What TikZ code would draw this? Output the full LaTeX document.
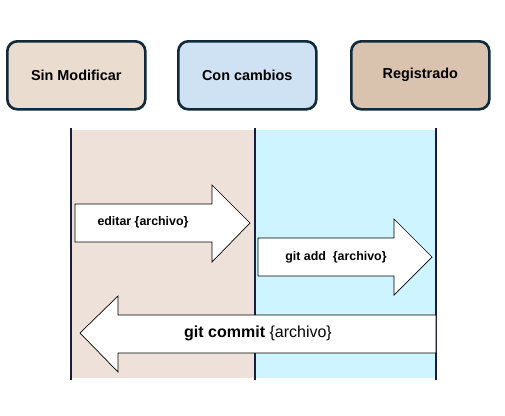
\documentclass[tikz,border=0pt]{standalone}
\usepackage{fontspec}
\setmainfont{Liberation Sans}
\begin{document}
\begin{tikzpicture}[x=1pt,y=-1pt,
  state/.style={draw=border,line width=2.6pt,rounded corners=10pt,minimum width=138pt,minimum height=68pt,font=\bfseries\fontsize{14.4}{16}\selectfont,anchor=north west},
  laneline/.style={draw=navy,line width=2.6pt},
  arrowtext/.style={font=\bfseries\fontsize{12.4}{14}\selectfont},
  bigarrow/.style={draw=black,fill=white,line width=0.7pt,line join=miter}]
\definecolor{border}{HTML}{102A3A}
\definecolor{navy}{HTML}{1B1A45}
\definecolor{beigeA}{HTML}{EADCCF}
\definecolor{blueB}{HTML}{CFE2F3}
\definecolor{tanC}{HTML}{D9C3AF}
\definecolor{laneA}{HTML}{EEE1D9}
\definecolor{laneB}{HTML}{CDF4FF}
\useasboundingbox (0,0) rectangle (505,415);
\fill[white] (0,0) rectangle (505,415);
% lanes
\fill[laneA] (72,130) rectangle (255,378);
\fill[laneB] (255,130) rectangle (436,378);
\coordinate (l1t) at (71,128); \coordinate (l1b) at (71,380);
\coordinate (l2t) at (255,128); \coordinate (l2b) at (255,380);
\coordinate (l3t) at (436,128); \coordinate (l3b) at (436,380);
\draw[laneline] (l1t) -- (l1b);
\draw[laneline] (l2t) -- (l2b);
\draw[laneline] (l3t) -- (l3b);
% states
\node[state,fill=beigeA] (sin) at (6,40) {Sin Modificar};
\node[state,fill=blueB] (con) at (177,40) {Con cambios};
\node[state,fill=tanC] (reg) at (350,40) {Registrado};
% arrows
\draw[bigarrow] (75,204) -- (212,204) -- (212,185) -- (250,223) -- (212,262) -- (212,242) -- (75,242) -- cycle;
\node[arrowtext] (ed) at (143,222) {editar \{archivo\}};
\draw[bigarrow] (258,238) -- (394,238) -- (394,219) -- (432,257) -- (394,295) -- (394,276) -- (258,276) -- cycle;
\node[arrowtext] (ga) at (336,257) {git add\ \ \{archivo\}};
\draw[bigarrow] (436,315) -- (118,315) -- (118,296) -- (80,333) -- (118,372) -- (118,353) -- (436,353) -- cycle;
\node[font=\fontsize{16}{18}\selectfont] (gc) at (258,333) {\textbf{git commit} \{archivo\}};
\end{tikzpicture}
\end{document}
